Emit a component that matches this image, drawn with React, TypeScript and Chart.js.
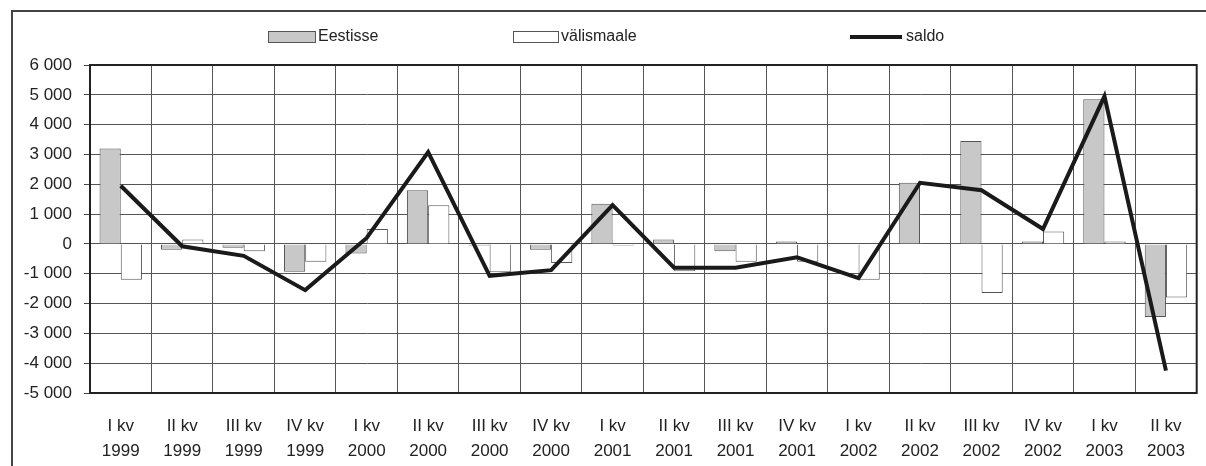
import React, { useEffect, useRef } from "react";
import { Chart, registerables } from "chart.js";

Chart.register(...registerables);

const quarters = ["I kv", "II kv", "III kv", "IV kv", "I kv", "II kv", "III kv", "IV kv", "I kv", "II kv", "III kv", "IV kv", "I kv", "II kv", "III kv", "IV kv", "I kv", "II kv"];
const years = ["1999", "1999", "1999", "1999", "2000", "2000", "2000", "2000", "2001", "2001", "2001", "2001", "2002", "2002", "2002", "2002", "2003", "2003"];

const eestisse = [3200, -200, -130, -930, -320, 1800, -50, -200, 1350, 150, -250, 80, -20, 2050, 3450, 80, 4850, -2450];
const valismaale = [-1200, 150, -250, -600, 500, 1300, -950, -640, -50, -920, -600, -600, -1200, 0, -1650, 420, 80, -1800];
const saldo = [1950, -80, -400, -1550, 200, 3080, -1070, -880, 1300, -800, -800, -450, -1150, 2050, 1800, 500, 4950, -4250];

const yMin = -5000;
const yMax = 6000;
const yStep = 1000;

const FONT = "'Liberation Sans', Arial, sans-serif";

function fmt(v: number): string {
  const s = Math.abs(v).toString();
  const withSpace = s.length > 3 ? s.slice(0, s.length - 3) + " " + s.slice(s.length - 3) : s;
  return (v < 0 ? "-" : "") + withSpace;
}

const framePlugin = {
  id: "framePlugin",
  beforeDraw(chart: any) {
    const ctx = chart.ctx;
    ctx.save();
    ctx.fillStyle = "#ffffff";
    ctx.fillRect(0, 0, chart.width, chart.height);
    ctx.strokeStyle = "#444";
    ctx.lineWidth = 2;
    ctx.strokeRect(12, 11, chart.width + 20, chart.height + 20);
    ctx.restore();
  },
  afterDatasetsDraw(chart: any) {
    const { ctx, chartArea } = chart;
    ctx.save();
    ctx.strokeStyle = "#222";
    ctx.lineWidth = 2;
    ctx.strokeRect(chartArea.left, chartArea.top, chartArea.right - chartArea.left, chartArea.bottom - chartArea.top);
    ctx.restore();
  },
  afterDraw(chart: any) {
    const ctx = chart.ctx;
    const ds = chart.data.datasets;
    ctx.save();
    ctx.font = `16px ${FONT}`;
    ctx.textBaseline = "middle";
    ctx.fillStyle = "#222";
    const cy = 37;
    // Eestisse
    ctx.fillStyle = "#c8c8c8";
    ctx.fillRect(268, 31, 47, 11);
    ctx.strokeStyle = "#555";
    ctx.lineWidth = 1;
    ctx.strokeRect(268.5, 31.5, 47, 11);
    ctx.fillStyle = "#222";
    ctx.fillText(ds[0].label, 318, cy);
    // välismaale
    ctx.fillStyle = "#fff";
    ctx.fillRect(513, 31, 45, 11);
    ctx.strokeRect(513.5, 31.5, 45, 11);
    ctx.fillStyle = "#222";
    ctx.fillText(ds[1].label, 561, cy);
    // saldo
    ctx.strokeStyle = "#1a1a1a";
    ctx.lineWidth = 4;
    ctx.beginPath();
    ctx.moveTo(850, cy);
    ctx.lineTo(902, cy);
    ctx.stroke();
    ctx.fillText(ds[2].label, 906, cy);
    ctx.restore();
  },
};

export default function App() {
  const ref = useRef<HTMLCanvasElement>(null);

  useEffect(() => {
    if (!ref.current) return;
    const labels = quarters.map((q, i) => [q, years[i]]);
    const chart = new Chart(ref.current, {
      type: "bar",
      data: {
        labels,
        datasets: [
          {
            type: "bar",
            label: "Eestisse",
            data: eestisse,
            backgroundColor: "#c8c8c8",
            borderColor: "#555",
            borderWidth: 1,
            categoryPercentage: 0.69,
            barPercentage: 1,
            order: 2,
          },
          {
            type: "bar",
            label: "välismaale",
            data: valismaale,
            backgroundColor: "#ffffff",
            borderColor: "#555",
            borderWidth: 1,
            categoryPercentage: 0.69,
            barPercentage: 1,
            order: 2,
          },
          {
            type: "line",
            label: "saldo",
            data: saldo,
            borderColor: "#1a1a1a",
            borderWidth: 4,
            pointRadius: 0,
            tension: 0,
            fill: false,
            order: 0,
          } as any,
        ],
      },
      options: {
        responsive: false,
        animation: false,
        maintainAspectRatio: false,
        layout: { padding: { top: 65, right: 5, left: 0, bottom: 0 } },
        plugins: {
          legend: { display: false },
          tooltip: { enabled: false },
        },
        scales: {
          x: {
            type: "category",
            offset: true,
            grid: {
              offset: true,
              color: "#555",
              lineWidth: 1,
              drawTicks: false,
            },
            border: { display: true, color: "#222", width: 2 },
            ticks: {
              font: { family: FONT, size: 17, lineHeight: 1.47 },
              color: "#222",
              padding: 21,
              maxRotation: 0,
              autoSkip: false,
            },
            afterFit(scale: any) {
              scale.height = 73;
            },
          },
          y: {
            min: yMin,
            max: yMax,
            grid: {
              color: "#555",
              lineWidth: 1,
              drawTicks: true,
              tickLength: 6,
              tickColor: "#444",
            },
            border: { display: true, color: "#222", width: 2 },
            ticks: {
              stepSize: yStep,
              font: { family: FONT, size: 17 },
              color: "#222",
              padding: 12,
              callback: (v: any) => fmt(Number(v)),
            },
            afterFit(scale: any) {
              scale.width = 90;
            },
          },
        },
      },
      plugins: [framePlugin],
    });
    return () => chart.destroy();
  }, []);

  return (
    <div style={{ position: "fixed", left: 0, top: 0, width: 1206, height: 466, background: "#fff" }}>
      <canvas ref={ref} width={1206} height={466} style={{ width: 1206, height: 466, display: "block" }} />
    </div>
  );
}
